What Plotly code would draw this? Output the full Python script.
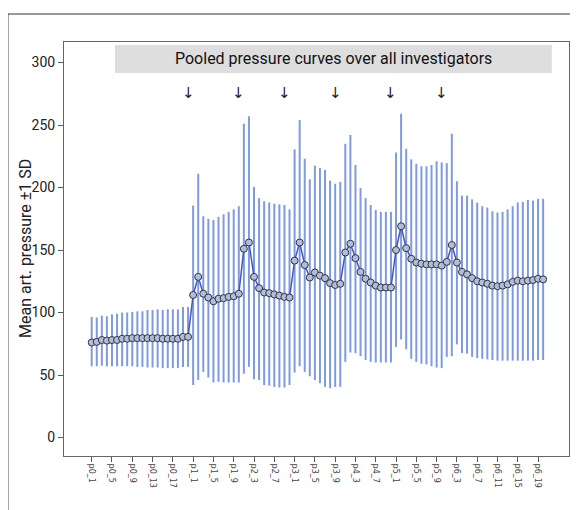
import plotly.graph_objects as go

# ---- data ----
categories = ([f"p0_{i}" for i in range(1, 21)] +
              [f"p{g}_{i}" for g in range(1, 6) for i in range(1, 11)] +
              [f"p6_{i}" for i in range(1, 21)])

mean_pressure = [76, 76.5, 78, 77.5, 78, 78, 79, 79, 79.5, 79.5,
                 79.5, 79.5, 79.5, 79.5, 79, 79, 79, 79, 80.5, 80.5,
                 114, 128.5, 115, 112, 109, 111, 111.5, 112.5, 113, 115,
                 151, 156, 128.5, 119.5, 116, 115.5, 114.5, 113.5, 112.5, 112,
                 141.5, 156, 138, 128, 132, 129.5, 127.5, 123.5, 122, 123,
                 148, 155, 143.5, 132.5, 127, 124, 121.5, 120, 120, 120,
                 150, 169, 151.5, 143, 140, 139, 138.5, 138.5, 138.5, 137.5,
                 140.5, 154, 140, 132.5, 130.5, 127.5, 125, 124, 123, 121.5,
                 121, 121.5, 122.5, 124.5, 125.5, 125, 125.5, 126, 127, 126.5]

upper_sd = [96.5, 96, 97.5, 97, 98.5, 99, 100, 100, 100.5, 101,
            101, 102, 102, 102.5, 102, 102.5, 102.5, 102.5, 104.5, 104.5,
            185.5, 211, 177, 175, 174, 176.5, 178.5, 180.5, 182.5, 185,
            251, 257, 200.5, 191.5, 189, 188, 187, 186.5, 186, 182.5,
            230.5, 254, 223, 206.5, 217.5, 215.5, 214, 205.5, 203, 204.5,
            235, 242, 218, 199.5, 191.5, 186, 182, 180.5, 180.5, 180.5,
            228, 259, 231, 222.5, 219, 217, 217, 218, 221, 220,
            219.5, 243, 205, 193.5, 193.5, 190.5, 188, 185, 184, 181,
            180, 180.5, 182.5, 185, 188, 188.5, 190, 189.5, 191, 191]

lower_sd = [57, 57, 57.5, 57, 57, 57, 57, 57, 57, 56.5,
            56.5, 56, 56, 56, 55.5, 55.5, 55.5, 55.5, 56.5, 56.5,
            42, 46, 52.5, 48, 44, 44.5, 44, 44, 44, 44,
            51, 56.5, 46.5, 46, 42, 41.5, 40.5, 40, 40, 42,
            52, 57, 52.5, 49, 46, 43.5, 40.5, 39.5, 40.5, 40.5,
            60.5, 68, 67.5, 65, 62, 60.5, 60, 60, 60, 60,
            72.5, 78.5, 70.5, 63, 60.5, 59, 58.5, 57, 56, 55.5,
            64.5, 65, 74.5, 67.5, 67, 64.5, 63.5, 63, 62.5, 62,
            61.5, 61.5, 61.5, 61.5, 61.5, 61.5, 61.5, 61.5, 62, 62]

tick_labels = categories[::4]
arrow_categories = ["p0_20", "p1_10", "p2_9", "p3_9", "p4_10", "p5_10"]
arrow_level = 276

title_text = "Pooled pressure curves over all investigators"
y_title = "Mean art. pressure \u00b11 SD"

FONT = "Roboto, sans-serif"

err_plus = [u - m for u, m in zip(upper_sd, mean_pressure)]
err_minus = [m - l for m, l in zip(mean_pressure, lower_sd)]

fig = go.Figure()
fig.add_trace(go.Scatter(
    x=categories, y=mean_pressure, mode="lines+markers",
    line=dict(color="#4257bf", width=1.5),
    marker=dict(symbol="circle", size=7, color="#b3bdd6",
                line=dict(color="#2f3448", width=1)),
    error_y=dict(type="data", symmetric=False, array=err_plus,
                 arrayminus=err_minus, width=0, thickness=2,
                 color="#7f9ade"),
    showlegend=False,
))

for c in arrow_categories:
    fig.add_annotation(x=c, y=arrow_level, text="\u2193", showarrow=False,
                       font=dict(size=15, color="#222", family="DejaVu Sans"),
                       xref="x", yref="y", yanchor="middle")

# title banner
fig.add_shape(type="rect", xref="paper", yref="paper",
              x0=0.101, x1=0.966, y0=0.925, y1=0.993,
              fillcolor="#dedede", line=dict(width=0), layer="below")
fig.add_annotation(xref="paper", yref="paper", x=0.534, y=0.959,
                   xanchor="center", yanchor="middle",
                   text=title_text, showarrow=False,
                   font=dict(size=16, color="#111", family=FONT))

# y axis title
fig.add_annotation(xref="paper", yref="paper", x=-0.0772, y=0.5,
                   xanchor="center", yanchor="middle", textangle=-90,
                   text=y_title, showarrow=False,
                   font=dict(size=16, color="#222", family=FONT))

# outer frame
fig.add_shape(type="rect", xref="paper", yref="paper",
              x0=-0.111, x1=1.0139, y0=-0.3, y1=1.0676,
              line=dict(color="#333", width=1), fillcolor="rgba(0,0,0,0)")

fig.update_layout(
    width=570, height=502,
    margin=dict(l=56, r=9, t=34, b=54),
    paper_bgcolor="white", plot_bgcolor="white",
    font=dict(family=FONT, color="#222"),
)
fig.update_xaxes(
    type="category", range=[-5.46, 94.1], automargin=False,
    tickmode="array", tickvals=tick_labels, ticktext=tick_labels,
    tickangle=90, tickfont=dict(size=8, color="#444", family="DejaVu Sans"),
    ticks="outside", ticklen=5, tickcolor="#555",
    showline=True, linecolor="#666", linewidth=1, mirror=True,
    showgrid=False, zeroline=False,
)
fig.update_yaxes(
    range=[-14.8, 316.4], automargin=False,
    tickvals=[0, 50, 100, 150, 200, 250, 300],
    tickfont=dict(size=14, color="#222", family=FONT),
    ticks="outside", ticklen=5, tickcolor="#555",
    showline=True, linecolor="#666", linewidth=1, mirror=True,
    showgrid=False, zeroline=False,
)

fig.write_html("out.html")
